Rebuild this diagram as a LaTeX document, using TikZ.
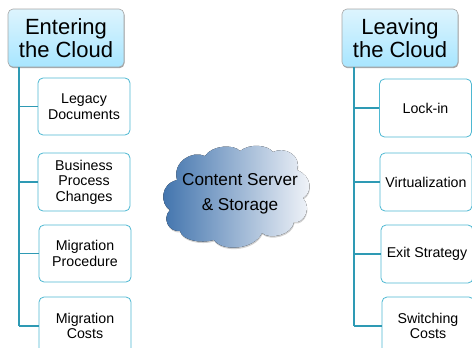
\documentclass[tikz,border=0pt]{standalone}
\usepackage{fontspec}
\setmainfont{Liberation Sans}
\usetikzlibrary{shadows,calc}
\definecolor{trunk}{HTML}{2E9AB4}
\definecolor{edgeb}{HTML}{4DB8D2}
\definecolor{headtop}{HTML}{DDF4FE}
\definecolor{headbot}{HTML}{A8E6FF}
\definecolor{cloudl}{HTML}{3F72AC}
\definecolor{cloudr}{HTML}{F4F6FA}
\tikzset{
 x=1pt,y=-1pt,
 headbox/.style={draw=black!35,line width=.6pt,rounded corners=5pt,top color=headtop,bottom color=headbot,
   minimum width=116pt,minimum height=58pt,inner sep=0pt,align=center,
   font=\fontsize{22}{23.5}\selectfont,
   drop shadow={shadow xshift=0.5pt,shadow yshift=-1.2pt,opacity=.35,fill=black}},
 itembox/.style={draw=edgeb,line width=.8pt,rounded corners=5pt,fill=white,
   minimum width=92pt,minimum height=58pt,inner sep=0pt,align=center,
   font=\fontsize{14.2}{15.6}\selectfont},
 trunkline/.style={draw=trunk,line width=2.4pt},
 branchline/.style={draw=trunk,line width=1.5pt},
 cloudtext/.style={align=center,inner sep=0pt,font=\fontsize{17.2}{25}\selectfont},
}
\def\cloudpath{(170,210) .. controls (160,204) and (160,184) .. (177,180)
 .. controls (172,162) and (192,150) .. (205,156)
 .. controls (212,145) and (234,144) .. (240,151)
 .. controls (250,143) and (268,145) .. (273,152)
 .. controls (284,146) and (302,155) .. (297,170)
 .. controls (312,176) and (313,192) .. (303,198)
 .. controls (312,208) and (304,224) .. (294,222)
 .. controls (292,235) and (270,240) .. (262,233)
 .. controls (254,250) and (222,252) .. (214,240)
 .. controls (200,244) and (182,240) .. (180,231)
 .. controls (168,232) and (162,218) .. (170,210) -- cycle}
\begin{document}
\begin{tikzpicture}
\useasboundingbox (0,0) rectangle (472,348);
\clip (0,0) rectangle (472,348);
\fill[black!40,opacity=.45,yshift=-1.5pt,xshift=.5pt] \cloudpath;
\fill[left color=cloudl,right color=cloudr] \cloudpath;
\node[cloudtext] (cloud) at (240,194) {Content Server\\\& Storage};

\node[headbox] (ent) at (66,38) {Entering\\the Cloud};
\node[itembox,minimum height=57pt] (a1) at (84,106.5) {Legacy\\Documents};
\node[itembox] (a2) at (84,182) {Business\\Process\\Changes};
\node[itembox,minimum height=57pt] (a3) at (85,253.5) {Migration\\Procedure};
\node[itembox] (a4) at (85,326) {Migration\\Costs};
\coordinate (ta) at ($(ent.south west)+(11.5,0)$);
\coordinate (tb) at (ta |- a4.west);
\draw[trunkline] (ta) -- (tb);
\foreach \n in {a1,a2,a3,a4} \draw[branchline] (ta |- \n.west) -- (\n.west);

\node[headbox] (lea) at (400,38) {Leaving\\the Cloud};
\node[itembox] (b1) at (425.5,108) {Lock-in};
\node[itembox] (b2) at (426,182) {Virtualization};
\node[itembox] (b3) at (427,254) {Exit Strategy};
\node[itembox] (b4) at (428,326) {Switching\\Costs};
\coordinate (tc) at ($(lea.south west)+(12,0)$);
\coordinate (td) at (tc |- b4.west);
\draw[trunkline] (tc) -- (td);
\foreach \n in {b1,b2,b3,b4} \draw[branchline] (tc |- \n.west) -- (\n.west);
\end{tikzpicture}
\end{document}
